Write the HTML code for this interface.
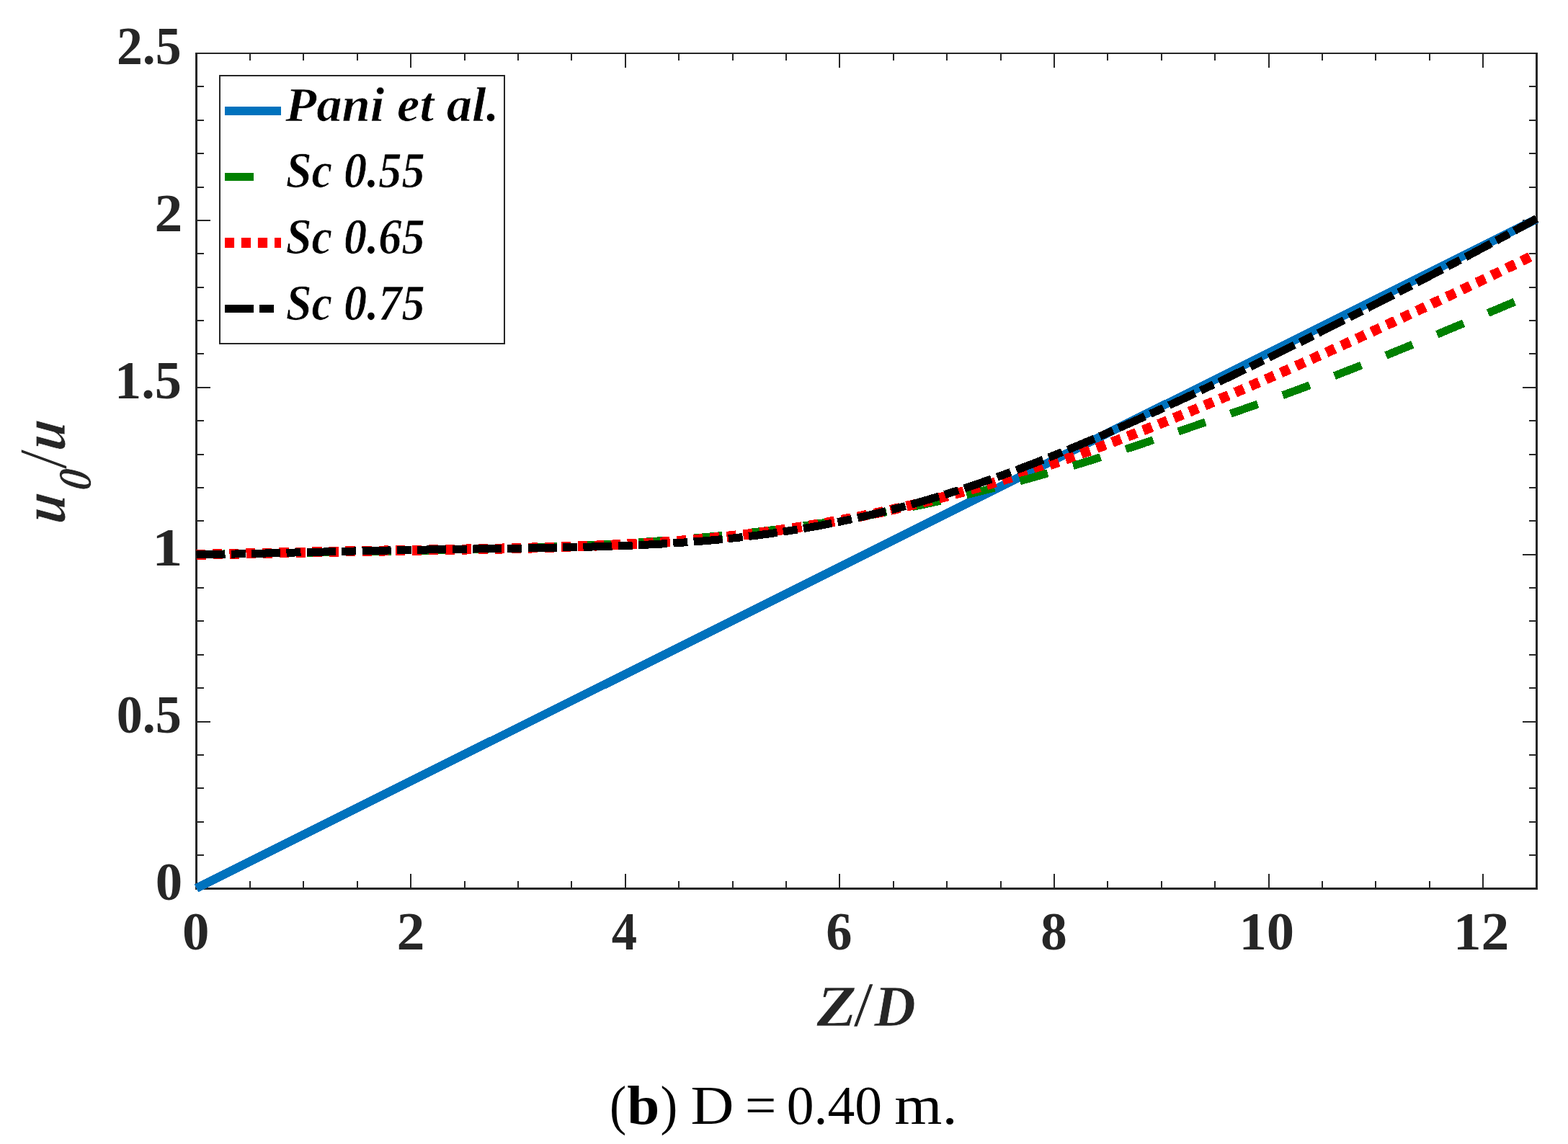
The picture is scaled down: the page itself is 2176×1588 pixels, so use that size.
<!DOCTYPE html>
<html lang="en"><head><meta charset="utf-8"><title>u0/u vs Z/D (b) D = 0.40 m.</title>
<style>
html,body{margin:0;padding:0;background:#fff;}
body{width:2176px;height:1588px;overflow:hidden;font-family:"Liberation Serif",serif;}
svg{display:block;}
</style></head>
<body>
<svg width="2176" height="1588" viewBox="0 0 2176 1588">
<rect width="2176" height="1588" fill="#fff"/>
<rect x="346.00" y="1223.00" width="2.00" height="11.00" fill="#262626"/>
<rect x="346.00" y="74.00" width="2.00" height="10.00" fill="#262626"/>
<rect x="420.00" y="1223.00" width="2.00" height="11.00" fill="#262626"/>
<rect x="420.00" y="74.00" width="2.00" height="10.00" fill="#262626"/>
<rect x="495.00" y="1223.00" width="2.00" height="11.00" fill="#262626"/>
<rect x="495.00" y="74.00" width="2.00" height="10.00" fill="#262626"/>
<rect x="569.00" y="1213.00" width="2.00" height="21.00" fill="#262626"/>
<rect x="569.00" y="74.00" width="2.00" height="20.00" fill="#262626"/>
<rect x="644.00" y="1223.00" width="2.00" height="11.00" fill="#262626"/>
<rect x="644.00" y="74.00" width="2.00" height="10.00" fill="#262626"/>
<rect x="718.00" y="1223.00" width="2.00" height="11.00" fill="#262626"/>
<rect x="718.00" y="74.00" width="2.00" height="10.00" fill="#262626"/>
<rect x="792.00" y="1223.00" width="2.00" height="11.00" fill="#262626"/>
<rect x="792.00" y="74.00" width="2.00" height="10.00" fill="#262626"/>
<rect x="867.00" y="1213.00" width="2.00" height="21.00" fill="#262626"/>
<rect x="867.00" y="74.00" width="2.00" height="20.00" fill="#262626"/>
<rect x="941.00" y="1223.00" width="2.00" height="11.00" fill="#262626"/>
<rect x="941.00" y="74.00" width="2.00" height="10.00" fill="#262626"/>
<rect x="1016.00" y="1223.00" width="2.00" height="11.00" fill="#262626"/>
<rect x="1016.00" y="74.00" width="2.00" height="10.00" fill="#262626"/>
<rect x="1090.00" y="1223.00" width="2.00" height="11.00" fill="#262626"/>
<rect x="1090.00" y="74.00" width="2.00" height="10.00" fill="#262626"/>
<rect x="1164.00" y="1213.00" width="2.00" height="21.00" fill="#262626"/>
<rect x="1164.00" y="74.00" width="2.00" height="20.00" fill="#262626"/>
<rect x="1239.00" y="1223.00" width="2.00" height="11.00" fill="#262626"/>
<rect x="1239.00" y="74.00" width="2.00" height="10.00" fill="#262626"/>
<rect x="1313.00" y="1223.00" width="2.00" height="11.00" fill="#262626"/>
<rect x="1313.00" y="74.00" width="2.00" height="10.00" fill="#262626"/>
<rect x="1388.00" y="1223.00" width="2.00" height="11.00" fill="#262626"/>
<rect x="1388.00" y="74.00" width="2.00" height="10.00" fill="#262626"/>
<rect x="1462.00" y="1213.00" width="2.00" height="21.00" fill="#262626"/>
<rect x="1462.00" y="74.00" width="2.00" height="20.00" fill="#262626"/>
<rect x="1536.00" y="1223.00" width="2.00" height="11.00" fill="#262626"/>
<rect x="1536.00" y="74.00" width="2.00" height="10.00" fill="#262626"/>
<rect x="1611.00" y="1223.00" width="2.00" height="11.00" fill="#262626"/>
<rect x="1611.00" y="74.00" width="2.00" height="10.00" fill="#262626"/>
<rect x="1685.00" y="1223.00" width="2.00" height="11.00" fill="#262626"/>
<rect x="1685.00" y="74.00" width="2.00" height="10.00" fill="#262626"/>
<rect x="1760.00" y="1213.00" width="2.00" height="21.00" fill="#262626"/>
<rect x="1760.00" y="74.00" width="2.00" height="20.00" fill="#262626"/>
<rect x="1834.00" y="1223.00" width="2.00" height="11.00" fill="#262626"/>
<rect x="1834.00" y="74.00" width="2.00" height="10.00" fill="#262626"/>
<rect x="1908.00" y="1223.00" width="2.00" height="11.00" fill="#262626"/>
<rect x="1908.00" y="74.00" width="2.00" height="10.00" fill="#262626"/>
<rect x="1983.00" y="1223.00" width="2.00" height="11.00" fill="#262626"/>
<rect x="1983.00" y="74.00" width="2.00" height="10.00" fill="#262626"/>
<rect x="2057.00" y="1213.00" width="2.00" height="21.00" fill="#262626"/>
<rect x="2057.00" y="74.00" width="2.00" height="20.00" fill="#262626"/>
<rect x="272.00" y="1186.00" width="11.00" height="2.00" fill="#262626"/>
<rect x="2122.00" y="1186.00" width="11.00" height="2.00" fill="#262626"/>
<rect x="272.00" y="1140.00" width="11.00" height="2.00" fill="#262626"/>
<rect x="2122.00" y="1140.00" width="11.00" height="2.00" fill="#262626"/>
<rect x="272.00" y="1093.00" width="11.00" height="2.00" fill="#262626"/>
<rect x="2122.00" y="1093.00" width="11.00" height="2.00" fill="#262626"/>
<rect x="272.00" y="1047.00" width="11.00" height="2.00" fill="#262626"/>
<rect x="2122.00" y="1047.00" width="11.00" height="2.00" fill="#262626"/>
<rect x="272.00" y="1001.00" width="20.00" height="2.00" fill="#262626"/>
<rect x="2113.00" y="1001.00" width="20.00" height="2.00" fill="#262626"/>
<rect x="272.00" y="954.00" width="11.00" height="2.00" fill="#262626"/>
<rect x="2122.00" y="954.00" width="11.00" height="2.00" fill="#262626"/>
<rect x="272.00" y="908.00" width="11.00" height="2.00" fill="#262626"/>
<rect x="2122.00" y="908.00" width="11.00" height="2.00" fill="#262626"/>
<rect x="272.00" y="861.00" width="11.00" height="2.00" fill="#262626"/>
<rect x="2122.00" y="861.00" width="11.00" height="2.00" fill="#262626"/>
<rect x="272.00" y="815.00" width="11.00" height="2.00" fill="#262626"/>
<rect x="2122.00" y="815.00" width="11.00" height="2.00" fill="#262626"/>
<rect x="272.00" y="769.00" width="20.00" height="2.00" fill="#262626"/>
<rect x="2113.00" y="769.00" width="20.00" height="2.00" fill="#262626"/>
<rect x="272.00" y="722.00" width="11.00" height="2.00" fill="#262626"/>
<rect x="2122.00" y="722.00" width="11.00" height="2.00" fill="#262626"/>
<rect x="272.00" y="676.00" width="11.00" height="2.00" fill="#262626"/>
<rect x="2122.00" y="676.00" width="11.00" height="2.00" fill="#262626"/>
<rect x="272.00" y="630.00" width="11.00" height="2.00" fill="#262626"/>
<rect x="2122.00" y="630.00" width="11.00" height="2.00" fill="#262626"/>
<rect x="272.00" y="583.00" width="11.00" height="2.00" fill="#262626"/>
<rect x="2122.00" y="583.00" width="11.00" height="2.00" fill="#262626"/>
<rect x="272.00" y="537.00" width="20.00" height="2.00" fill="#262626"/>
<rect x="2113.00" y="537.00" width="20.00" height="2.00" fill="#262626"/>
<rect x="272.00" y="490.00" width="11.00" height="2.00" fill="#262626"/>
<rect x="2122.00" y="490.00" width="11.00" height="2.00" fill="#262626"/>
<rect x="272.00" y="444.00" width="11.00" height="2.00" fill="#262626"/>
<rect x="2122.00" y="444.00" width="11.00" height="2.00" fill="#262626"/>
<rect x="272.00" y="398.00" width="11.00" height="2.00" fill="#262626"/>
<rect x="2122.00" y="398.00" width="11.00" height="2.00" fill="#262626"/>
<rect x="272.00" y="351.00" width="11.00" height="2.00" fill="#262626"/>
<rect x="2122.00" y="351.00" width="11.00" height="2.00" fill="#262626"/>
<rect x="272.00" y="305.00" width="20.00" height="2.00" fill="#262626"/>
<rect x="2113.00" y="305.00" width="20.00" height="2.00" fill="#262626"/>
<rect x="272.00" y="259.00" width="11.00" height="2.00" fill="#262626"/>
<rect x="2122.00" y="259.00" width="11.00" height="2.00" fill="#262626"/>
<rect x="272.00" y="212.00" width="11.00" height="2.00" fill="#262626"/>
<rect x="2122.00" y="212.00" width="11.00" height="2.00" fill="#262626"/>
<rect x="272.00" y="166.00" width="11.00" height="2.00" fill="#262626"/>
<rect x="2122.00" y="166.00" width="11.00" height="2.00" fill="#262626"/>
<rect x="272.00" y="119.00" width="11.00" height="2.00" fill="#262626"/>
<rect x="2122.00" y="119.00" width="11.00" height="2.00" fill="#262626"/>
<rect x="271.00" y="73.00" width="3.00" height="1162.00" fill="#262626"/>
<rect x="2131.00" y="73.00" width="3.00" height="1162.00" fill="#262626"/>
<rect x="271.00" y="73.00" width="1863.00" height="2.00" fill="#262626"/>
<rect x="271.00" y="1232.00" width="1863.00" height="3.00" fill="#262626"/>
<path d="M272.5,1233.0 L2132.5,304.0" stroke="#0072BD" stroke-width="12" fill="none" shape-rendering="crispEdges"/>
<path d="M272.50,769.66 L275.50,769.61 L278.50,769.56 L281.50,769.51 L284.50,769.45 L287.50,769.40 L290.50,769.35 L293.50,769.30 L296.50,769.25 L299.50,769.20 L302.50,769.14 L305.50,769.09 L308.50,769.04 L311.50,768.99 L314.50,768.94 L317.50,768.89 L320.50,768.84 L323.50,768.79 L326.50,768.74 L329.50,768.69 L332.50,768.64 L335.50,768.59 L338.50,768.54 L341.50,768.49 L344.50,768.44 L347.50,768.39 L350.50,768.34 L353.50,768.30 L356.50,768.25 L359.50,768.20 L362.50,768.15 L365.50,768.10 L368.50,768.05 L371.50,768.00 L374.50,767.96 L377.50,767.91 L380.50,767.86 L383.50,767.81 L386.50,767.76 L389.50,767.72 L392.50,767.67 L395.50,767.62 L398.50,767.57 L401.50,767.52 L404.50,767.48 L407.50,767.43 L410.50,767.38 L413.50,767.33 L416.50,767.28 L419.50,767.24 L422.50,767.19 L425.50,767.14 L428.50,767.09 L431.50,767.04 L434.50,766.99 L437.50,766.95 L440.50,766.90 L443.50,766.85 L446.50,766.80 L449.50,766.75 L452.50,766.70 L455.50,766.65 L458.50,766.61 L461.50,766.56 L464.50,766.51 L467.50,766.46 L470.50,766.41 L473.50,766.36 L476.50,766.31 L479.50,766.26 L482.50,766.21 L485.50,766.16 L488.50,766.11 L491.50,766.06 L494.50,766.00 L497.50,765.95 L500.50,765.90 L503.50,765.85 L506.50,765.80 L509.50,765.75 L512.50,765.69 L515.50,765.64 L518.50,765.59 L521.50,765.53 L524.50,765.48 L527.50,765.42 L530.50,765.37 L533.50,765.31 L536.50,765.26 L539.50,765.20 L542.50,765.15 L545.50,765.09 L548.50,765.03 L551.50,764.98 L554.50,764.92 L557.50,764.86 L560.50,764.80 L563.50,764.74 L566.50,764.68 L569.50,764.62 L572.50,764.56 L575.50,764.50 L578.50,764.44 L581.50,764.38 L584.50,764.31 L587.50,764.25 L590.50,764.19 L593.50,764.12 L596.50,764.06 L599.50,763.99 L602.50,763.93 L605.50,763.86 L608.50,763.79 L611.50,763.72 L614.50,763.65 L617.50,763.58 L620.50,763.51 L623.50,763.44 L626.50,763.37 L629.50,763.30 L632.50,763.23 L635.50,763.15 L638.50,763.08 L641.50,763.00 L644.50,762.93 L647.50,762.85 L650.50,762.77 L653.50,762.69 L656.50,762.61 L659.50,762.53 L662.50,762.45 L665.50,762.37 L668.50,762.29 L671.50,762.20 L674.50,762.12 L677.50,762.03 L680.50,761.94 L683.50,761.86 L686.50,761.77 L689.50,761.68 L692.50,761.59 L695.50,761.49 L698.50,761.40 L701.50,761.31 L704.50,761.21 L707.50,761.12 L710.50,761.02 L713.50,760.92 L716.50,760.82 L719.50,760.72 L722.50,760.62 L725.50,760.51 L728.50,760.41 L731.50,760.30 L734.50,760.20 L737.50,760.09 L740.50,759.98 L743.50,759.87 L746.50,759.76 L749.50,759.64 L752.50,759.53 L755.50,759.41 L758.50,759.29 L761.50,759.18 L764.50,759.05 L767.50,758.93 L770.50,758.81 L773.50,758.68 L776.50,758.56 L779.50,758.43 L782.50,758.30 L785.50,758.17 L788.50,758.04 L791.50,757.91 L794.50,757.77 L797.50,757.63 L800.50,757.49 L803.50,757.35 L806.50,757.21 L809.50,757.07 L812.50,756.92 L815.50,756.78 L818.50,756.63 L821.50,756.48 L824.50,756.32 L827.50,756.17 L830.50,756.01 L833.50,755.86 L836.50,755.70 L839.50,755.53 L842.50,755.37 L845.50,755.21 L848.50,755.04 L851.50,754.87 L854.50,754.70 L857.50,754.52 L860.50,754.35 L863.50,754.17 L866.50,753.99 L869.50,753.81 L872.50,753.63 L875.50,753.44 L878.50,753.26 L881.50,753.07 L884.50,752.87 L887.50,752.68 L890.50,752.48 L893.50,752.28 L896.50,752.08 L899.50,751.88 L902.50,751.67 L905.50,751.47 L908.50,751.26 L911.50,751.04 L914.50,750.83 L917.50,750.61 L920.50,750.39 L923.50,750.17 L926.50,749.95 L929.50,749.72 L932.50,749.49 L935.50,749.26 L938.50,749.02 L941.50,748.78 L944.50,748.54 L947.50,748.30 L950.50,748.06 L953.50,747.81 L956.50,747.56 L959.50,747.31 L962.50,747.05 L965.50,746.79 L968.50,746.53 L971.50,746.26 L974.50,746.00 L977.50,745.73 L980.50,745.45 L983.50,745.18 L986.50,744.90 L989.50,744.62 L992.50,744.33 L995.50,744.05 L998.50,743.75 L1001.50,743.46 L1004.50,743.16 L1007.50,742.86 L1010.50,742.56 L1013.50,742.25 L1016.50,741.95 L1019.50,741.63 L1022.50,741.32 L1025.50,741.00 L1028.50,740.68 L1031.50,740.35 L1034.50,740.02 L1037.50,739.69 L1040.50,739.35 L1043.50,739.02 L1046.50,738.67 L1049.50,738.33 L1052.50,737.98 L1055.50,737.63 L1058.50,737.27 L1061.50,736.91 L1064.50,736.55 L1067.50,736.18 L1070.50,735.81 L1073.50,735.44 L1076.50,735.07 L1079.50,734.68 L1082.50,734.30 L1085.50,733.91 L1088.50,733.52 L1091.50,733.13 L1094.50,732.73 L1097.50,732.33 L1100.50,731.92 L1103.50,731.51 L1106.50,731.10 L1109.50,730.69 L1112.50,730.27 L1115.50,729.84 L1118.50,729.41 L1121.50,728.98 L1124.50,728.55 L1127.50,728.11 L1130.50,727.67 L1133.50,727.22 L1136.50,726.77 L1139.50,726.32 L1142.50,725.86 L1145.50,725.40 L1148.50,724.93 L1151.50,724.46 L1154.50,723.99 L1157.50,723.51 L1160.50,723.03 L1163.50,722.55 L1166.50,722.06 L1169.50,721.57 L1172.50,721.07 L1175.50,720.57 L1178.50,720.07 L1181.50,719.56 L1184.50,719.05 L1187.50,718.53 L1190.50,718.01 L1193.50,717.49 L1196.50,716.96 L1199.50,716.43 L1202.50,715.89 L1205.50,715.35 L1208.50,714.81 L1211.50,714.26 L1214.50,713.71 L1217.50,713.15 L1220.50,712.59 L1223.50,712.03 L1226.50,711.46 L1229.50,710.89 L1232.50,710.31 L1235.50,709.73 L1238.50,709.15 L1241.50,708.56 L1244.50,707.97 L1247.50,707.38 L1250.50,706.78 L1253.50,706.17 L1256.50,705.56 L1259.50,704.95 L1262.50,704.34 L1265.50,703.72 L1268.50,703.09 L1271.50,702.46 L1274.50,701.83 L1277.50,701.20 L1280.50,700.56 L1283.50,699.91 L1286.50,699.27 L1289.50,698.61 L1292.50,697.96 L1295.50,697.30 L1298.50,696.63 L1301.50,695.97 L1304.50,695.29 L1307.50,694.62 L1310.50,693.94 L1313.50,693.25 L1316.50,692.57 L1319.50,691.88 L1322.50,691.18 L1325.50,690.48 L1328.50,689.78 L1331.50,689.07 L1334.50,688.36 L1337.50,687.64 L1340.50,686.92 L1343.50,686.20 L1346.50,685.47 L1349.50,684.74 L1352.50,684.01 L1355.50,683.27 L1358.50,682.53 L1361.50,681.78 L1364.50,681.03 L1367.50,680.27 L1370.50,679.52 L1373.50,678.76 L1376.50,677.99 L1379.50,677.22 L1382.50,676.45 L1385.50,675.67 L1388.50,674.89 L1391.50,674.10 L1394.50,673.32 L1397.50,672.52 L1400.50,671.73 L1403.50,670.93 L1406.50,670.13 L1409.50,669.32 L1412.50,668.51 L1415.50,667.69 L1418.50,666.87 L1421.50,666.05 L1424.50,665.23 L1427.50,664.40 L1430.50,663.56 L1433.50,662.73 L1436.50,661.89 L1439.50,661.04 L1442.50,660.20 L1445.50,659.34 L1448.50,658.49 L1451.50,657.63 L1454.50,656.77 L1457.50,655.90 L1460.50,655.03 L1463.50,654.16 L1466.50,653.28 L1469.50,652.40 L1472.50,651.52 L1475.50,650.63 L1478.50,649.74 L1481.50,648.85 L1484.50,647.95 L1487.50,647.05 L1490.50,646.14 L1493.50,645.23 L1496.50,644.32 L1499.50,643.40 L1502.50,642.48 L1505.50,641.56 L1508.50,640.63 L1511.50,639.70 L1514.50,638.77 L1517.50,637.83 L1520.50,636.89 L1523.50,635.94 L1526.50,635.00 L1529.50,634.04 L1532.50,633.09 L1535.50,632.13 L1538.50,631.17 L1541.50,630.20 L1544.50,629.24 L1547.50,628.26 L1550.50,627.29 L1553.50,626.31 L1556.50,625.33 L1559.50,624.35 L1562.50,623.36 L1565.50,622.37 L1568.50,621.38 L1571.50,620.39 L1574.50,619.39 L1577.50,618.40 L1580.50,617.40 L1583.50,616.39 L1586.50,615.39 L1589.50,614.38 L1592.50,613.38 L1595.50,612.37 L1598.50,611.36 L1601.50,610.35 L1604.50,609.34 L1607.50,608.32 L1610.50,607.31 L1613.50,606.29 L1616.50,605.28 L1619.50,604.26 L1622.50,603.24 L1625.50,602.22 L1628.50,601.20 L1631.50,600.19 L1634.50,599.17 L1637.50,598.15 L1640.50,597.13 L1643.50,596.10 L1646.50,595.08 L1649.50,594.06 L1652.50,593.04 L1655.50,592.02 L1658.50,591.00 L1661.50,589.97 L1664.50,588.95 L1667.50,587.93 L1670.50,586.90 L1673.50,585.88 L1676.50,584.85 L1679.50,583.83 L1682.50,582.80 L1685.50,581.78 L1688.50,580.75 L1691.50,579.72 L1694.50,578.69 L1697.50,577.67 L1700.50,576.64 L1703.50,575.61 L1706.50,574.57 L1709.50,573.54 L1712.50,572.51 L1715.50,571.47 L1718.50,570.43 L1721.50,569.40 L1724.50,568.36 L1727.50,567.31 L1730.50,566.27 L1733.50,565.23 L1736.50,564.18 L1739.50,563.13 L1742.50,562.07 L1745.50,561.02 L1748.50,559.96 L1751.50,558.90 L1754.50,557.84 L1757.50,556.77 L1760.50,555.70 L1763.50,554.63 L1766.50,553.56 L1769.50,552.48 L1772.50,551.40 L1775.50,550.31 L1778.50,549.23 L1781.50,548.14 L1784.50,547.04 L1787.50,545.95 L1790.50,544.85 L1793.50,543.74 L1796.50,542.64 L1799.50,541.53 L1802.50,540.41 L1805.50,539.30 L1808.50,538.18 L1811.50,537.06 L1814.50,535.93 L1817.50,534.81 L1820.50,533.67 L1823.50,532.54 L1826.50,531.40 L1829.50,530.26 L1832.50,529.12 L1835.50,527.98 L1838.50,526.83 L1841.50,525.68 L1844.50,524.52 L1847.50,523.37 L1850.50,522.21 L1853.50,521.05 L1856.50,519.88 L1859.50,518.72 L1862.50,517.55 L1865.50,516.38 L1868.50,515.20 L1871.50,514.03 L1874.50,512.85 L1877.50,511.66 L1880.50,510.48 L1883.50,509.29 L1886.50,508.11 L1889.50,506.91 L1892.50,505.72 L1895.50,504.53 L1898.50,503.33 L1901.50,502.13 L1904.50,500.93 L1907.50,499.72 L1910.50,498.52 L1913.50,497.31 L1916.50,496.10 L1919.50,494.89 L1922.50,493.68 L1925.50,492.46 L1928.50,491.24 L1931.50,490.02 L1934.50,488.80 L1937.50,487.58 L1940.50,486.35 L1943.50,485.13 L1946.50,483.90 L1949.50,482.67 L1952.50,481.44 L1955.50,480.21 L1958.50,478.97 L1961.50,477.74 L1964.50,476.50 L1967.50,475.26 L1970.50,474.02 L1973.50,472.78 L1976.50,471.54 L1979.50,470.30 L1982.50,469.05 L1985.50,467.81 L1988.50,466.56 L1991.50,465.31 L1994.50,464.06 L1997.50,462.81 L2000.50,461.56 L2003.50,460.31 L2006.50,459.06 L2009.50,457.80 L2012.50,456.55 L2015.50,455.29 L2018.50,454.04 L2021.50,452.78 L2024.50,451.52 L2027.50,450.26 L2030.50,449.01 L2033.50,447.75 L2036.50,446.49 L2039.50,445.23 L2042.50,443.96 L2045.50,442.70 L2048.50,441.44 L2051.50,440.18 L2054.50,438.92 L2057.50,437.65 L2060.50,436.39 L2063.50,435.13 L2066.50,433.86 L2069.50,432.60 L2072.50,431.34 L2075.50,430.07 L2078.50,428.81 L2081.50,427.55 L2084.50,426.28 L2087.50,425.02 L2090.50,423.76 L2093.50,422.49 L2096.50,421.23 L2099.50,419.97 L2102.50,418.71 L2105.50,417.45 L2108.50,416.19 L2111.50,414.92 L2114.50,413.66 L2117.50,412.41 L2120.50,411.15 L2123.50,409.89 L2126.50,408.63 L2129.50,407.37 L2132.50,406.12" stroke="#008000" stroke-width="11" stroke-dasharray="40 36.735" stroke-dashoffset="0" fill="none" shape-rendering="crispEdges"/>
<path d="M272.50,769.96 L275.50,769.88 L278.50,769.81 L281.50,769.74 L284.50,769.67 L287.50,769.60 L290.50,769.53 L293.50,769.46 L296.50,769.38 L299.50,769.31 L302.50,769.24 L305.50,769.17 L308.50,769.10 L311.50,769.03 L314.50,768.96 L317.50,768.89 L320.50,768.82 L323.50,768.75 L326.50,768.68 L329.50,768.61 L332.50,768.54 L335.50,768.47 L338.50,768.40 L341.50,768.33 L344.50,768.27 L347.50,768.20 L350.50,768.13 L353.50,768.06 L356.50,767.99 L359.50,767.93 L362.50,767.86 L365.50,767.79 L368.50,767.73 L371.50,767.66 L374.50,767.59 L377.50,767.53 L380.50,767.46 L383.50,767.40 L386.50,767.33 L389.50,767.27 L392.50,767.20 L395.50,767.14 L398.50,767.07 L401.50,767.01 L404.50,766.95 L407.50,766.89 L410.50,766.82 L413.50,766.76 L416.50,766.70 L419.50,766.64 L422.50,766.58 L425.50,766.52 L428.50,766.45 L431.50,766.39 L434.50,766.33 L437.50,766.27 L440.50,766.22 L443.50,766.16 L446.50,766.10 L449.50,766.04 L452.50,765.98 L455.50,765.92 L458.50,765.87 L461.50,765.81 L464.50,765.75 L467.50,765.69 L470.50,765.64 L473.50,765.58 L476.50,765.53 L479.50,765.47 L482.50,765.41 L485.50,765.36 L488.50,765.30 L491.50,765.25 L494.50,765.20 L497.50,765.14 L500.50,765.09 L503.50,765.03 L506.50,764.98 L509.50,764.93 L512.50,764.87 L515.50,764.82 L518.50,764.77 L521.50,764.71 L524.50,764.66 L527.50,764.61 L530.50,764.56 L533.50,764.51 L536.50,764.45 L539.50,764.40 L542.50,764.35 L545.50,764.30 L548.50,764.25 L551.50,764.20 L554.50,764.15 L557.50,764.09 L560.50,764.04 L563.50,763.99 L566.50,763.94 L569.50,763.89 L572.50,763.84 L575.50,763.79 L578.50,763.74 L581.50,763.68 L584.50,763.63 L587.50,763.58 L590.50,763.53 L593.50,763.48 L596.50,763.43 L599.50,763.37 L602.50,763.32 L605.50,763.27 L608.50,763.22 L611.50,763.17 L614.50,763.11 L617.50,763.06 L620.50,763.01 L623.50,762.95 L626.50,762.90 L629.50,762.84 L632.50,762.79 L635.50,762.74 L638.50,762.68 L641.50,762.63 L644.50,762.57 L647.50,762.51 L650.50,762.46 L653.50,762.40 L656.50,762.34 L659.50,762.28 L662.50,762.22 L665.50,762.17 L668.50,762.11 L671.50,762.05 L674.50,761.98 L677.50,761.92 L680.50,761.86 L683.50,761.80 L686.50,761.74 L689.50,761.67 L692.50,761.61 L695.50,761.54 L698.50,761.47 L701.50,761.41 L704.50,761.34 L707.50,761.27 L710.50,761.20 L713.50,761.13 L716.50,761.06 L719.50,760.99 L722.50,760.91 L725.50,760.84 L728.50,760.76 L731.50,760.69 L734.50,760.61 L737.50,760.53 L740.50,760.45 L743.50,760.37 L746.50,760.29 L749.50,760.20 L752.50,760.12 L755.50,760.03 L758.50,759.95 L761.50,759.86 L764.50,759.77 L767.50,759.68 L770.50,759.58 L773.50,759.49 L776.50,759.39 L779.50,759.30 L782.50,759.20 L785.50,759.10 L788.50,759.00 L791.50,758.89 L794.50,758.79 L797.50,758.68 L800.50,758.57 L803.50,758.46 L806.50,758.35 L809.50,758.24 L812.50,758.12 L815.50,758.01 L818.50,757.89 L821.50,757.76 L824.50,757.64 L827.50,757.52 L830.50,757.39 L833.50,757.26 L836.50,757.13 L839.50,756.99 L842.50,756.86 L845.50,756.72 L848.50,756.58 L851.50,756.44 L854.50,756.29 L857.50,756.14 L860.50,755.99 L863.50,755.84 L866.50,755.69 L869.50,755.53 L872.50,755.37 L875.50,755.21 L878.50,755.04 L881.50,754.87 L884.50,754.70 L887.50,754.53 L890.50,754.35 L893.50,754.17 L896.50,753.99 L899.50,753.81 L902.50,753.62 L905.50,753.43 L908.50,753.23 L911.50,753.04 L914.50,752.84 L917.50,752.63 L920.50,752.43 L923.50,752.22 L926.50,752.00 L929.50,751.79 L932.50,751.57 L935.50,751.35 L938.50,751.12 L941.50,750.89 L944.50,750.66 L947.50,750.42 L950.50,750.18 L953.50,749.94 L956.50,749.69 L959.50,749.44 L962.50,749.19 L965.50,748.93 L968.50,748.67 L971.50,748.40 L974.50,748.13 L977.50,747.86 L980.50,747.58 L983.50,747.30 L986.50,747.02 L989.50,746.73 L992.50,746.44 L995.50,746.14 L998.50,745.84 L1001.50,745.54 L1004.50,745.23 L1007.50,744.92 L1010.50,744.61 L1013.50,744.29 L1016.50,743.96 L1019.50,743.63 L1022.50,743.30 L1025.50,742.96 L1028.50,742.62 L1031.50,742.28 L1034.50,741.93 L1037.50,741.58 L1040.50,741.22 L1043.50,740.86 L1046.50,740.49 L1049.50,740.12 L1052.50,739.74 L1055.50,739.36 L1058.50,738.98 L1061.50,738.59 L1064.50,738.20 L1067.50,737.80 L1070.50,737.40 L1073.50,736.99 L1076.50,736.58 L1079.50,736.17 L1082.50,735.75 L1085.50,735.32 L1088.50,734.89 L1091.50,734.46 L1094.50,734.02 L1097.50,733.58 L1100.50,733.13 L1103.50,732.68 L1106.50,732.22 L1109.50,731.76 L1112.50,731.29 L1115.50,730.82 L1118.50,730.34 L1121.50,729.86 L1124.50,729.38 L1127.50,728.89 L1130.50,728.39 L1133.50,727.89 L1136.50,727.39 L1139.50,726.88 L1142.50,726.36 L1145.50,725.84 L1148.50,725.32 L1151.50,724.79 L1154.50,724.26 L1157.50,723.72 L1160.50,723.17 L1163.50,722.62 L1166.50,722.07 L1169.50,721.51 L1172.50,720.95 L1175.50,720.38 L1178.50,719.81 L1181.50,719.23 L1184.50,718.64 L1187.50,718.06 L1190.50,717.46 L1193.50,716.86 L1196.50,716.26 L1199.50,715.65 L1202.50,715.04 L1205.50,714.42 L1208.50,713.80 L1211.50,713.17 L1214.50,712.54 L1217.50,711.90 L1220.50,711.25 L1223.50,710.61 L1226.50,709.95 L1229.50,709.29 L1232.50,708.63 L1235.50,707.96 L1238.50,707.29 L1241.50,706.61 L1244.50,705.92 L1247.50,705.24 L1250.50,704.54 L1253.50,703.84 L1256.50,703.14 L1259.50,702.43 L1262.50,701.72 L1265.50,701.00 L1268.50,700.27 L1271.50,699.55 L1274.50,698.81 L1277.50,698.07 L1280.50,697.33 L1283.50,696.58 L1286.50,695.83 L1289.50,695.07 L1292.50,694.30 L1295.50,693.53 L1298.50,692.76 L1301.50,691.98 L1304.50,691.20 L1307.50,690.41 L1310.50,689.61 L1313.50,688.82 L1316.50,688.01 L1319.50,687.20 L1322.50,686.39 L1325.50,685.57 L1328.50,684.75 L1331.50,683.92 L1334.50,683.09 L1337.50,682.25 L1340.50,681.41 L1343.50,680.56 L1346.50,679.71 L1349.50,678.85 L1352.50,677.99 L1355.50,677.12 L1358.50,676.25 L1361.50,675.37 L1364.50,674.49 L1367.50,673.60 L1370.50,672.71 L1373.50,671.82 L1376.50,670.92 L1379.50,670.01 L1382.50,669.10 L1385.50,668.19 L1388.50,667.27 L1391.50,666.35 L1394.50,665.42 L1397.50,664.49 L1400.50,663.55 L1403.50,662.61 L1406.50,661.66 L1409.50,660.71 L1412.50,659.75 L1415.50,658.79 L1418.50,657.83 L1421.50,656.86 L1424.50,655.89 L1427.50,654.91 L1430.50,653.93 L1433.50,652.94 L1436.50,651.95 L1439.50,650.95 L1442.50,649.95 L1445.50,648.95 L1448.50,647.94 L1451.50,646.93 L1454.50,645.91 L1457.50,644.89 L1460.50,643.87 L1463.50,642.84 L1466.50,641.80 L1469.50,640.77 L1472.50,639.72 L1475.50,638.68 L1478.50,637.63 L1481.50,636.57 L1484.50,635.52 L1487.50,634.46 L1490.50,633.39 L1493.50,632.32 L1496.50,631.25 L1499.50,630.17 L1502.50,629.09 L1505.50,628.00 L1508.50,626.91 L1511.50,625.82 L1514.50,624.73 L1517.50,623.63 L1520.50,622.52 L1523.50,621.42 L1526.50,620.30 L1529.50,619.19 L1532.50,618.07 L1535.50,616.95 L1538.50,615.83 L1541.50,614.70 L1544.50,613.57 L1547.50,612.43 L1550.50,611.29 L1553.50,610.15 L1556.50,609.01 L1559.50,607.86 L1562.50,606.71 L1565.50,605.55 L1568.50,604.39 L1571.50,603.23 L1574.50,602.07 L1577.50,600.90 L1580.50,599.73 L1583.50,598.56 L1586.50,597.38 L1589.50,596.20 L1592.50,595.02 L1595.50,593.84 L1598.50,592.65 L1601.50,591.46 L1604.50,590.26 L1607.50,589.07 L1610.50,587.87 L1613.50,586.66 L1616.50,585.46 L1619.50,584.25 L1622.50,583.04 L1625.50,581.83 L1628.50,580.61 L1631.50,579.39 L1634.50,578.17 L1637.50,576.95 L1640.50,575.72 L1643.50,574.50 L1646.50,573.26 L1649.50,572.03 L1652.50,570.80 L1655.50,569.56 L1658.50,568.32 L1661.50,567.07 L1664.50,565.83 L1667.50,564.58 L1670.50,563.33 L1673.50,562.08 L1676.50,560.82 L1679.50,559.57 L1682.50,558.31 L1685.50,557.04 L1688.50,555.78 L1691.50,554.52 L1694.50,553.25 L1697.50,551.98 L1700.50,550.71 L1703.50,549.43 L1706.50,548.15 L1709.50,546.88 L1712.50,545.60 L1715.50,544.31 L1718.50,543.03 L1721.50,541.74 L1724.50,540.45 L1727.50,539.16 L1730.50,537.87 L1733.50,536.58 L1736.50,535.28 L1739.50,533.98 L1742.50,532.69 L1745.50,531.38 L1748.50,530.08 L1751.50,528.78 L1754.50,527.47 L1757.50,526.16 L1760.50,524.85 L1763.50,523.54 L1766.50,522.22 L1769.50,520.91 L1772.50,519.59 L1775.50,518.27 L1778.50,516.95 L1781.50,515.63 L1784.50,514.31 L1787.50,512.98 L1790.50,511.66 L1793.50,510.33 L1796.50,509.00 L1799.50,507.67 L1802.50,506.33 L1805.50,505.00 L1808.50,503.66 L1811.50,502.32 L1814.50,500.99 L1817.50,499.65 L1820.50,498.30 L1823.50,496.96 L1826.50,495.62 L1829.50,494.27 L1832.50,492.92 L1835.50,491.57 L1838.50,490.22 L1841.50,488.87 L1844.50,487.52 L1847.50,486.16 L1850.50,484.81 L1853.50,483.45 L1856.50,482.09 L1859.50,480.73 L1862.50,479.37 L1865.50,478.01 L1868.50,476.65 L1871.50,475.28 L1874.50,473.92 L1877.50,472.55 L1880.50,471.18 L1883.50,469.81 L1886.50,468.44 L1889.50,467.07 L1892.50,465.69 L1895.50,464.32 L1898.50,462.94 L1901.50,461.57 L1904.50,460.19 L1907.50,458.81 L1910.50,457.43 L1913.50,456.05 L1916.50,454.67 L1919.50,453.28 L1922.50,451.90 L1925.50,450.51 L1928.50,449.12 L1931.50,447.74 L1934.50,446.35 L1937.50,444.96 L1940.50,443.56 L1943.50,442.17 L1946.50,440.78 L1949.50,439.38 L1952.50,437.99 L1955.50,436.59 L1958.50,435.19 L1961.50,433.79 L1964.50,432.39 L1967.50,430.99 L1970.50,429.59 L1973.50,428.18 L1976.50,426.78 L1979.50,425.37 L1982.50,423.97 L1985.50,422.56 L1988.50,421.15 L1991.50,419.74 L1994.50,418.33 L1997.50,416.92 L2000.50,415.51 L2003.50,414.09 L2006.50,412.68 L2009.50,411.26 L2012.50,409.85 L2015.50,408.43 L2018.50,407.01 L2021.50,405.59 L2024.50,404.17 L2027.50,402.74 L2030.50,401.32 L2033.50,399.90 L2036.50,398.47 L2039.50,397.05 L2042.50,395.62 L2045.50,394.19 L2048.50,392.76 L2051.50,391.33 L2054.50,389.90 L2057.50,388.47 L2060.50,387.03 L2063.50,385.60 L2066.50,384.16 L2069.50,382.73 L2072.50,381.29 L2075.50,379.85 L2078.50,378.41 L2081.50,376.97 L2084.50,375.53 L2087.50,374.08 L2090.50,372.64 L2093.50,371.19 L2096.50,369.75 L2099.50,368.30 L2102.50,366.85 L2105.50,365.40 L2108.50,363.95 L2111.50,362.50 L2114.50,361.04 L2117.50,359.59 L2120.50,358.13 L2123.50,356.68 L2126.50,355.22 L2129.50,353.76 L2132.26,352.42" stroke="#FF0000" stroke-width="14" stroke-dasharray="13.1 9.918" stroke-dashoffset="0" fill="none" shape-rendering="crispEdges"/>
<clipPath id="gclip"><rect x="1400" y="0" width="145" height="1588"/></clipPath>
<path clip-path="url(#gclip)" d="M272.50,769.66 L275.50,769.61 L278.50,769.56 L281.50,769.51 L284.50,769.45 L287.50,769.40 L290.50,769.35 L293.50,769.30 L296.50,769.25 L299.50,769.20 L302.50,769.14 L305.50,769.09 L308.50,769.04 L311.50,768.99 L314.50,768.94 L317.50,768.89 L320.50,768.84 L323.50,768.79 L326.50,768.74 L329.50,768.69 L332.50,768.64 L335.50,768.59 L338.50,768.54 L341.50,768.49 L344.50,768.44 L347.50,768.39 L350.50,768.34 L353.50,768.30 L356.50,768.25 L359.50,768.20 L362.50,768.15 L365.50,768.10 L368.50,768.05 L371.50,768.00 L374.50,767.96 L377.50,767.91 L380.50,767.86 L383.50,767.81 L386.50,767.76 L389.50,767.72 L392.50,767.67 L395.50,767.62 L398.50,767.57 L401.50,767.52 L404.50,767.48 L407.50,767.43 L410.50,767.38 L413.50,767.33 L416.50,767.28 L419.50,767.24 L422.50,767.19 L425.50,767.14 L428.50,767.09 L431.50,767.04 L434.50,766.99 L437.50,766.95 L440.50,766.90 L443.50,766.85 L446.50,766.80 L449.50,766.75 L452.50,766.70 L455.50,766.65 L458.50,766.61 L461.50,766.56 L464.50,766.51 L467.50,766.46 L470.50,766.41 L473.50,766.36 L476.50,766.31 L479.50,766.26 L482.50,766.21 L485.50,766.16 L488.50,766.11 L491.50,766.06 L494.50,766.00 L497.50,765.95 L500.50,765.90 L503.50,765.85 L506.50,765.80 L509.50,765.75 L512.50,765.69 L515.50,765.64 L518.50,765.59 L521.50,765.53 L524.50,765.48 L527.50,765.42 L530.50,765.37 L533.50,765.31 L536.50,765.26 L539.50,765.20 L542.50,765.15 L545.50,765.09 L548.50,765.03 L551.50,764.98 L554.50,764.92 L557.50,764.86 L560.50,764.80 L563.50,764.74 L566.50,764.68 L569.50,764.62 L572.50,764.56 L575.50,764.50 L578.50,764.44 L581.50,764.38 L584.50,764.31 L587.50,764.25 L590.50,764.19 L593.50,764.12 L596.50,764.06 L599.50,763.99 L602.50,763.93 L605.50,763.86 L608.50,763.79 L611.50,763.72 L614.50,763.65 L617.50,763.58 L620.50,763.51 L623.50,763.44 L626.50,763.37 L629.50,763.30 L632.50,763.23 L635.50,763.15 L638.50,763.08 L641.50,763.00 L644.50,762.93 L647.50,762.85 L650.50,762.77 L653.50,762.69 L656.50,762.61 L659.50,762.53 L662.50,762.45 L665.50,762.37 L668.50,762.29 L671.50,762.20 L674.50,762.12 L677.50,762.03 L680.50,761.94 L683.50,761.86 L686.50,761.77 L689.50,761.68 L692.50,761.59 L695.50,761.49 L698.50,761.40 L701.50,761.31 L704.50,761.21 L707.50,761.12 L710.50,761.02 L713.50,760.92 L716.50,760.82 L719.50,760.72 L722.50,760.62 L725.50,760.51 L728.50,760.41 L731.50,760.30 L734.50,760.20 L737.50,760.09 L740.50,759.98 L743.50,759.87 L746.50,759.76 L749.50,759.64 L752.50,759.53 L755.50,759.41 L758.50,759.29 L761.50,759.18 L764.50,759.05 L767.50,758.93 L770.50,758.81 L773.50,758.68 L776.50,758.56 L779.50,758.43 L782.50,758.30 L785.50,758.17 L788.50,758.04 L791.50,757.91 L794.50,757.77 L797.50,757.63 L800.50,757.49 L803.50,757.35 L806.50,757.21 L809.50,757.07 L812.50,756.92 L815.50,756.78 L818.50,756.63 L821.50,756.48 L824.50,756.32 L827.50,756.17 L830.50,756.01 L833.50,755.86 L836.50,755.70 L839.50,755.53 L842.50,755.37 L845.50,755.21 L848.50,755.04 L851.50,754.87 L854.50,754.70 L857.50,754.52 L860.50,754.35 L863.50,754.17 L866.50,753.99 L869.50,753.81 L872.50,753.63 L875.50,753.44 L878.50,753.26 L881.50,753.07 L884.50,752.87 L887.50,752.68 L890.50,752.48 L893.50,752.28 L896.50,752.08 L899.50,751.88 L902.50,751.67 L905.50,751.47 L908.50,751.26 L911.50,751.04 L914.50,750.83 L917.50,750.61 L920.50,750.39 L923.50,750.17 L926.50,749.95 L929.50,749.72 L932.50,749.49 L935.50,749.26 L938.50,749.02 L941.50,748.78 L944.50,748.54 L947.50,748.30 L950.50,748.06 L953.50,747.81 L956.50,747.56 L959.50,747.31 L962.50,747.05 L965.50,746.79 L968.50,746.53 L971.50,746.26 L974.50,746.00 L977.50,745.73 L980.50,745.45 L983.50,745.18 L986.50,744.90 L989.50,744.62 L992.50,744.33 L995.50,744.05 L998.50,743.75 L1001.50,743.46 L1004.50,743.16 L1007.50,742.86 L1010.50,742.56 L1013.50,742.25 L1016.50,741.95 L1019.50,741.63 L1022.50,741.32 L1025.50,741.00 L1028.50,740.68 L1031.50,740.35 L1034.50,740.02 L1037.50,739.69 L1040.50,739.35 L1043.50,739.02 L1046.50,738.67 L1049.50,738.33 L1052.50,737.98 L1055.50,737.63 L1058.50,737.27 L1061.50,736.91 L1064.50,736.55 L1067.50,736.18 L1070.50,735.81 L1073.50,735.44 L1076.50,735.07 L1079.50,734.68 L1082.50,734.30 L1085.50,733.91 L1088.50,733.52 L1091.50,733.13 L1094.50,732.73 L1097.50,732.33 L1100.50,731.92 L1103.50,731.51 L1106.50,731.10 L1109.50,730.69 L1112.50,730.27 L1115.50,729.84 L1118.50,729.41 L1121.50,728.98 L1124.50,728.55 L1127.50,728.11 L1130.50,727.67 L1133.50,727.22 L1136.50,726.77 L1139.50,726.32 L1142.50,725.86 L1145.50,725.40 L1148.50,724.93 L1151.50,724.46 L1154.50,723.99 L1157.50,723.51 L1160.50,723.03 L1163.50,722.55 L1166.50,722.06 L1169.50,721.57 L1172.50,721.07 L1175.50,720.57 L1178.50,720.07 L1181.50,719.56 L1184.50,719.05 L1187.50,718.53 L1190.50,718.01 L1193.50,717.49 L1196.50,716.96 L1199.50,716.43 L1202.50,715.89 L1205.50,715.35 L1208.50,714.81 L1211.50,714.26 L1214.50,713.71 L1217.50,713.15 L1220.50,712.59 L1223.50,712.03 L1226.50,711.46 L1229.50,710.89 L1232.50,710.31 L1235.50,709.73 L1238.50,709.15 L1241.50,708.56 L1244.50,707.97 L1247.50,707.38 L1250.50,706.78 L1253.50,706.17 L1256.50,705.56 L1259.50,704.95 L1262.50,704.34 L1265.50,703.72 L1268.50,703.09 L1271.50,702.46 L1274.50,701.83 L1277.50,701.20 L1280.50,700.56 L1283.50,699.91 L1286.50,699.27 L1289.50,698.61 L1292.50,697.96 L1295.50,697.30 L1298.50,696.63 L1301.50,695.97 L1304.50,695.29 L1307.50,694.62 L1310.50,693.94 L1313.50,693.25 L1316.50,692.57 L1319.50,691.88 L1322.50,691.18 L1325.50,690.48 L1328.50,689.78 L1331.50,689.07 L1334.50,688.36 L1337.50,687.64 L1340.50,686.92 L1343.50,686.20 L1346.50,685.47 L1349.50,684.74 L1352.50,684.01 L1355.50,683.27 L1358.50,682.53 L1361.50,681.78 L1364.50,681.03 L1367.50,680.27 L1370.50,679.52 L1373.50,678.76 L1376.50,677.99 L1379.50,677.22 L1382.50,676.45 L1385.50,675.67 L1388.50,674.89 L1391.50,674.10 L1394.50,673.32 L1397.50,672.52 L1400.50,671.73 L1403.50,670.93 L1406.50,670.13 L1409.50,669.32 L1412.50,668.51 L1415.50,667.69 L1418.50,666.87 L1421.50,666.05 L1424.50,665.23 L1427.50,664.40 L1430.50,663.56 L1433.50,662.73 L1436.50,661.89 L1439.50,661.04 L1442.50,660.20 L1445.50,659.34 L1448.50,658.49 L1451.50,657.63 L1454.50,656.77 L1457.50,655.90 L1460.50,655.03 L1463.50,654.16 L1466.50,653.28 L1469.50,652.40 L1472.50,651.52 L1475.50,650.63 L1478.50,649.74 L1481.50,648.85 L1484.50,647.95 L1487.50,647.05 L1490.50,646.14 L1493.50,645.23 L1496.50,644.32 L1499.50,643.40 L1502.50,642.48 L1505.50,641.56 L1508.50,640.63 L1511.50,639.70 L1514.50,638.77 L1517.50,637.83 L1520.50,636.89 L1523.50,635.94 L1526.50,635.00 L1529.50,634.04 L1532.50,633.09 L1535.50,632.13 L1538.50,631.17 L1541.50,630.20 L1544.50,629.24 L1547.50,628.26 L1550.50,627.29 L1553.50,626.31 L1556.50,625.33 L1559.50,624.35 L1562.50,623.36 L1565.50,622.37 L1568.50,621.38 L1571.50,620.39 L1574.50,619.39 L1577.50,618.40 L1580.50,617.40 L1583.50,616.39 L1586.50,615.39 L1589.50,614.38 L1592.50,613.38 L1595.50,612.37 L1598.50,611.36 L1601.50,610.35 L1604.50,609.34 L1607.50,608.32 L1610.50,607.31 L1613.50,606.29 L1616.50,605.28 L1619.50,604.26 L1622.50,603.24 L1625.50,602.22 L1628.50,601.20 L1631.50,600.19 L1634.50,599.17 L1637.50,598.15 L1640.50,597.13 L1643.50,596.10 L1646.50,595.08 L1649.50,594.06 L1652.50,593.04 L1655.50,592.02 L1658.50,591.00 L1661.50,589.97 L1664.50,588.95 L1667.50,587.93 L1670.50,586.90 L1673.50,585.88 L1676.50,584.85 L1679.50,583.83 L1682.50,582.80 L1685.50,581.78 L1688.50,580.75 L1691.50,579.72 L1694.50,578.69 L1697.50,577.67 L1700.50,576.64 L1703.50,575.61 L1706.50,574.57 L1709.50,573.54 L1712.50,572.51 L1715.50,571.47 L1718.50,570.43 L1721.50,569.40 L1724.50,568.36 L1727.50,567.31 L1730.50,566.27 L1733.50,565.23 L1736.50,564.18 L1739.50,563.13 L1742.50,562.07 L1745.50,561.02 L1748.50,559.96 L1751.50,558.90 L1754.50,557.84 L1757.50,556.77 L1760.50,555.70 L1763.50,554.63 L1766.50,553.56 L1769.50,552.48 L1772.50,551.40 L1775.50,550.31 L1778.50,549.23 L1781.50,548.14 L1784.50,547.04 L1787.50,545.95 L1790.50,544.85 L1793.50,543.74 L1796.50,542.64 L1799.50,541.53 L1802.50,540.41 L1805.50,539.30 L1808.50,538.18 L1811.50,537.06 L1814.50,535.93 L1817.50,534.81 L1820.50,533.67 L1823.50,532.54 L1826.50,531.40 L1829.50,530.26 L1832.50,529.12 L1835.50,527.98 L1838.50,526.83 L1841.50,525.68 L1844.50,524.52 L1847.50,523.37 L1850.50,522.21 L1853.50,521.05 L1856.50,519.88 L1859.50,518.72 L1862.50,517.55 L1865.50,516.38 L1868.50,515.20 L1871.50,514.03 L1874.50,512.85 L1877.50,511.66 L1880.50,510.48 L1883.50,509.29 L1886.50,508.11 L1889.50,506.91 L1892.50,505.72 L1895.50,504.53 L1898.50,503.33 L1901.50,502.13 L1904.50,500.93 L1907.50,499.72 L1910.50,498.52 L1913.50,497.31 L1916.50,496.10 L1919.50,494.89 L1922.50,493.68 L1925.50,492.46 L1928.50,491.24 L1931.50,490.02 L1934.50,488.80 L1937.50,487.58 L1940.50,486.35 L1943.50,485.13 L1946.50,483.90 L1949.50,482.67 L1952.50,481.44 L1955.50,480.21 L1958.50,478.97 L1961.50,477.74 L1964.50,476.50 L1967.50,475.26 L1970.50,474.02 L1973.50,472.78 L1976.50,471.54 L1979.50,470.30 L1982.50,469.05 L1985.50,467.81 L1988.50,466.56 L1991.50,465.31 L1994.50,464.06 L1997.50,462.81 L2000.50,461.56 L2003.50,460.31 L2006.50,459.06 L2009.50,457.80 L2012.50,456.55 L2015.50,455.29 L2018.50,454.04 L2021.50,452.78 L2024.50,451.52 L2027.50,450.26 L2030.50,449.01 L2033.50,447.75 L2036.50,446.49 L2039.50,445.23 L2042.50,443.96 L2045.50,442.70 L2048.50,441.44 L2051.50,440.18 L2054.50,438.92 L2057.50,437.65 L2060.50,436.39 L2063.50,435.13 L2066.50,433.86 L2069.50,432.60 L2072.50,431.34 L2075.50,430.07 L2078.50,428.81 L2081.50,427.55 L2084.50,426.28 L2087.50,425.02 L2090.50,423.76 L2093.50,422.49 L2096.50,421.23 L2099.50,419.97 L2102.50,418.71 L2105.50,417.45 L2108.50,416.19 L2111.50,414.92 L2114.50,413.66 L2117.50,412.41 L2120.50,411.15 L2123.50,409.89 L2126.50,408.63 L2129.50,407.37 L2132.50,406.12" stroke="#008000" stroke-width="11" stroke-dasharray="40 36.735" stroke-dashoffset="0" fill="none" shape-rendering="crispEdges"/>
<path d="M272.50,769.98 L275.50,769.94 L278.50,769.89 L281.50,769.84 L284.50,769.80 L287.50,769.75 L290.50,769.70 L293.50,769.64 L296.50,769.59 L299.50,769.53 L302.50,769.48 L305.50,769.42 L308.50,769.36 L311.50,769.30 L314.50,769.24 L317.50,769.18 L320.50,769.12 L323.50,769.05 L326.50,768.99 L329.50,768.92 L332.50,768.86 L335.50,768.79 L338.50,768.72 L341.50,768.65 L344.50,768.58 L347.50,768.51 L350.50,768.44 L353.50,768.37 L356.50,768.30 L359.50,768.23 L362.50,768.16 L365.50,768.08 L368.50,768.01 L371.50,767.94 L374.50,767.86 L377.50,767.79 L380.50,767.71 L383.50,767.64 L386.50,767.56 L389.50,767.49 L392.50,767.41 L395.50,767.34 L398.50,767.26 L401.50,767.19 L404.50,767.11 L407.50,767.04 L410.50,766.96 L413.50,766.89 L416.50,766.81 L419.50,766.73 L422.50,766.66 L425.50,766.58 L428.50,766.51 L431.50,766.43 L434.50,766.36 L437.50,766.28 L440.50,766.21 L443.50,766.14 L446.50,766.06 L449.50,765.99 L452.50,765.92 L455.50,765.84 L458.50,765.77 L461.50,765.70 L464.50,765.63 L467.50,765.55 L470.50,765.48 L473.50,765.41 L476.50,765.34 L479.50,765.27 L482.50,765.20 L485.50,765.13 L488.50,765.07 L491.50,765.00 L494.50,764.93 L497.50,764.86 L500.50,764.80 L503.50,764.73 L506.50,764.66 L509.50,764.60 L512.50,764.53 L515.50,764.47 L518.50,764.41 L521.50,764.34 L524.50,764.28 L527.50,764.22 L530.50,764.16 L533.50,764.10 L536.50,764.04 L539.50,763.98 L542.50,763.92 L545.50,763.86 L548.50,763.80 L551.50,763.74 L554.50,763.69 L557.50,763.63 L560.50,763.57 L563.50,763.52 L566.50,763.46 L569.50,763.41 L572.50,763.35 L575.50,763.30 L578.50,763.25 L581.50,763.19 L584.50,763.14 L587.50,763.09 L590.50,763.04 L593.50,762.99 L596.50,762.94 L599.50,762.89 L602.50,762.84 L605.50,762.79 L608.50,762.74 L611.50,762.70 L614.50,762.65 L617.50,762.60 L620.50,762.55 L623.50,762.51 L626.50,762.46 L629.50,762.42 L632.50,762.37 L635.50,762.33 L638.50,762.28 L641.50,762.24 L644.50,762.19 L647.50,762.15 L650.50,762.10 L653.50,762.06 L656.50,762.02 L659.50,761.97 L662.50,761.93 L665.50,761.88 L668.50,761.84 L671.50,761.80 L674.50,761.75 L677.50,761.71 L680.50,761.67 L683.50,761.62 L686.50,761.58 L689.50,761.54 L692.50,761.49 L695.50,761.45 L698.50,761.41 L701.50,761.36 L704.50,761.32 L707.50,761.27 L710.50,761.23 L713.50,761.18 L716.50,761.14 L719.50,761.09 L722.50,761.04 L725.50,761.00 L728.50,760.95 L731.50,760.90 L734.50,760.85 L737.50,760.80 L740.50,760.75 L743.50,760.70 L746.50,760.65 L749.50,760.60 L752.50,760.54 L755.50,760.49 L758.50,760.43 L761.50,760.38 L764.50,760.32 L767.50,760.26 L770.50,760.21 L773.50,760.15 L776.50,760.09 L779.50,760.02 L782.50,759.96 L785.50,759.90 L788.50,759.83 L791.50,759.76 L794.50,759.69 L797.50,759.62 L800.50,759.55 L803.50,759.48 L806.50,759.41 L809.50,759.33 L812.50,759.25 L815.50,759.17 L818.50,759.09 L821.50,759.01 L824.50,758.92 L827.50,758.84 L830.50,758.75 L833.50,758.66 L836.50,758.56 L839.50,758.47 L842.50,758.37 L845.50,758.27 L848.50,758.17 L851.50,758.07 L854.50,757.96 L857.50,757.85 L860.50,757.74 L863.50,757.62 L866.50,757.51 L869.50,757.39 L872.50,757.26 L875.50,757.14 L878.50,757.01 L881.50,756.88 L884.50,756.75 L887.50,756.61 L890.50,756.47 L893.50,756.32 L896.50,756.18 L899.50,756.03 L902.50,755.87 L905.50,755.72 L908.50,755.56 L911.50,755.39 L914.50,755.23 L917.50,755.06 L920.50,754.88 L923.50,754.70 L926.50,754.52 L929.50,754.34 L932.50,754.15 L935.50,753.95 L938.50,753.75 L941.50,753.55 L944.50,753.35 L947.50,753.14 L950.50,752.92 L953.50,752.70 L956.50,752.48 L959.50,752.25 L962.50,752.02 L965.50,751.79 L968.50,751.55 L971.50,751.30 L974.50,751.05 L977.50,750.80 L980.50,750.54 L983.50,750.28 L986.50,750.01 L989.50,749.74 L992.50,749.46 L995.50,749.18 L998.50,748.89 L1001.50,748.60 L1004.50,748.30 L1007.50,748.00 L1010.50,747.69 L1013.50,747.38 L1016.50,747.06 L1019.50,746.74 L1022.50,746.41 L1025.50,746.08 L1028.50,745.74 L1031.50,745.40 L1034.50,745.05 L1037.50,744.69 L1040.50,744.33 L1043.50,743.97 L1046.50,743.60 L1049.50,743.22 L1052.50,742.84 L1055.50,742.45 L1058.50,742.06 L1061.50,741.66 L1064.50,741.25 L1067.50,740.84 L1070.50,740.43 L1073.50,740.01 L1076.50,739.58 L1079.50,739.14 L1082.50,738.70 L1085.50,738.26 L1088.50,737.81 L1091.50,737.35 L1094.50,736.89 L1097.50,736.42 L1100.50,735.94 L1103.50,735.46 L1106.50,734.97 L1109.50,734.48 L1112.50,733.98 L1115.50,733.47 L1118.50,732.96 L1121.50,732.44 L1124.50,731.92 L1127.50,731.38 L1130.50,730.85 L1133.50,730.30 L1136.50,729.75 L1139.50,729.20 L1142.50,728.63 L1145.50,728.07 L1148.50,727.49 L1151.50,726.91 L1154.50,726.32 L1157.50,725.72 L1160.50,725.12 L1163.50,724.52 L1166.50,723.90 L1169.50,723.28 L1172.50,722.65 L1175.50,722.02 L1178.50,721.38 L1181.50,720.73 L1184.50,720.08 L1187.50,719.42 L1190.50,718.75 L1193.50,718.08 L1196.50,717.40 L1199.50,716.71 L1202.50,716.02 L1205.50,715.32 L1208.50,714.61 L1211.50,713.90 L1214.50,713.18 L1217.50,712.46 L1220.50,711.72 L1223.50,710.99 L1226.50,710.24 L1229.50,709.49 L1232.50,708.73 L1235.50,707.96 L1238.50,707.19 L1241.50,706.41 L1244.50,705.63 L1247.50,704.84 L1250.50,704.04 L1253.50,703.23 L1256.50,702.42 L1259.50,701.60 L1262.50,700.78 L1265.50,699.95 L1268.50,699.11 L1271.50,698.27 L1274.50,697.42 L1277.50,696.56 L1280.50,695.70 L1283.50,694.83 L1286.50,693.95 L1289.50,693.07 L1292.50,692.18 L1295.50,691.29 L1298.50,690.38 L1301.50,689.48 L1304.50,688.56 L1307.50,687.64 L1310.50,686.71 L1313.50,685.78 L1316.50,684.84 L1319.50,683.90 L1322.50,682.94 L1325.50,681.99 L1328.50,681.02 L1331.50,680.05 L1334.50,679.08 L1337.50,678.09 L1340.50,677.11 L1343.50,676.11 L1346.50,675.11 L1349.50,674.10 L1352.50,673.09 L1355.50,672.07 L1358.50,671.05 L1361.50,670.02 L1364.50,668.98 L1367.50,667.94 L1370.50,666.89 L1373.50,665.84 L1376.50,664.78 L1379.50,663.72 L1382.50,662.65 L1385.50,661.57 L1388.50,660.49 L1391.50,659.41 L1394.50,658.31 L1397.50,657.22 L1400.50,656.11 L1403.50,655.01 L1406.50,653.89 L1409.50,652.77 L1412.50,651.65 L1415.50,650.52 L1418.50,649.39 L1421.50,648.25 L1424.50,647.10 L1427.50,645.95 L1430.50,644.80 L1433.50,643.64 L1436.50,642.48 L1439.50,641.31 L1442.50,640.13 L1445.50,638.96 L1448.50,637.77 L1451.50,636.59 L1454.50,635.39 L1457.50,634.20 L1460.50,633.00 L1463.50,631.79 L1466.50,630.58 L1469.50,629.37 L1472.50,628.15 L1475.50,626.93 L1478.50,625.70 L1481.50,624.47 L1484.50,623.23 L1487.50,622.00 L1490.50,620.75 L1493.50,619.51 L1496.50,618.25 L1499.50,617.00 L1502.50,615.74 L1505.50,614.48 L1508.50,613.21 L1511.50,611.94 L1514.50,610.67 L1517.50,609.39 L1520.50,608.11 L1523.50,606.82 L1526.50,605.53 L1529.50,604.24 L1532.50,602.95 L1535.50,601.65 L1538.50,600.34 L1541.50,599.04 L1544.50,597.73 L1547.50,596.42 L1550.50,595.10 L1553.50,593.78 L1556.50,592.46 L1559.50,591.13 L1562.50,589.81 L1565.50,588.47 L1568.50,587.14 L1571.50,585.80 L1574.50,584.46 L1577.50,583.12 L1580.50,581.77 L1583.50,580.42 L1586.50,579.07 L1589.50,577.72 L1592.50,576.36 L1595.50,575.00 L1598.50,573.63 L1601.50,572.27 L1604.50,570.90 L1607.50,569.53 L1610.50,568.15 L1613.50,566.78 L1616.50,565.40 L1619.50,564.01 L1622.50,562.63 L1625.50,561.24 L1628.50,559.85 L1631.50,558.46 L1634.50,557.07 L1637.50,555.67 L1640.50,554.27 L1643.50,552.87 L1646.50,551.47 L1649.50,550.06 L1652.50,548.66 L1655.50,547.25 L1658.50,545.83 L1661.50,544.42 L1664.50,543.00 L1667.50,541.58 L1670.50,540.16 L1673.50,538.74 L1676.50,537.32 L1679.50,535.89 L1682.50,534.46 L1685.50,533.03 L1688.50,531.60 L1691.50,530.16 L1694.50,528.72 L1697.50,527.29 L1700.50,525.85 L1703.50,524.40 L1706.50,522.96 L1709.50,521.51 L1712.50,520.07 L1715.50,518.62 L1718.50,517.16 L1721.50,515.71 L1724.50,514.26 L1727.50,512.80 L1730.50,511.34 L1733.50,509.88 L1736.50,508.42 L1739.50,506.96 L1742.50,505.49 L1745.50,504.03 L1748.50,502.56 L1751.50,501.09 L1754.50,499.62 L1757.50,498.14 L1760.50,496.67 L1763.50,495.19 L1766.50,493.72 L1769.50,492.24 L1772.50,490.76 L1775.50,489.28 L1778.50,487.79 L1781.50,486.31 L1784.50,484.82 L1787.50,483.34 L1790.50,481.85 L1793.50,480.36 L1796.50,478.86 L1799.50,477.37 L1802.50,475.88 L1805.50,474.38 L1808.50,472.88 L1811.50,471.39 L1814.50,469.89 L1817.50,468.39 L1820.50,466.88 L1823.50,465.38 L1826.50,463.87 L1829.50,462.37 L1832.50,460.86 L1835.50,459.35 L1838.50,457.84 L1841.50,456.33 L1844.50,454.82 L1847.50,453.30 L1850.50,451.79 L1853.50,450.27 L1856.50,448.75 L1859.50,447.24 L1862.50,445.72 L1865.50,444.19 L1868.50,442.67 L1871.50,441.15 L1874.50,439.62 L1877.50,438.10 L1880.50,436.57 L1883.50,435.04 L1886.50,433.51 L1889.50,431.98 L1892.50,430.45 L1895.50,428.91 L1898.50,427.38 L1901.50,425.84 L1904.50,424.31 L1907.50,422.77 L1910.50,421.23 L1913.50,419.69 L1916.50,418.15 L1919.50,416.60 L1922.50,415.06 L1925.50,413.51 L1928.50,411.97 L1931.50,410.42 L1934.50,408.87 L1937.50,407.32 L1940.50,405.77 L1943.50,404.21 L1946.50,402.66 L1949.50,401.11 L1952.50,399.55 L1955.50,397.99 L1958.50,396.43 L1961.50,394.87 L1964.50,393.31 L1967.50,391.75 L1970.50,390.18 L1973.50,388.62 L1976.50,387.05 L1979.50,385.48 L1982.50,383.91 L1985.50,382.34 L1988.50,380.77 L1991.50,379.19 L1994.50,377.62 L1997.50,376.04 L2000.50,374.46 L2003.50,372.89 L2006.50,371.30 L2009.50,369.72 L2012.50,368.14 L2015.50,366.55 L2018.50,364.97 L2021.50,363.38 L2024.50,361.79 L2027.50,360.20 L2030.50,358.61 L2033.50,357.01 L2036.50,355.42 L2039.50,353.82 L2042.50,352.22 L2045.50,350.62 L2048.50,349.02 L2051.50,347.42 L2054.50,345.81 L2057.50,344.21 L2060.50,342.60 L2063.50,340.99 L2066.50,339.38 L2069.50,337.76 L2072.50,336.15 L2075.50,334.53 L2078.50,332.91 L2081.50,331.29 L2084.50,329.67 L2087.50,328.05 L2090.50,326.42 L2093.50,324.80 L2096.50,323.17 L2099.50,321.54 L2102.50,319.90 L2105.50,318.27 L2108.50,316.63 L2111.50,314.99 L2114.50,313.35 L2117.50,311.71 L2120.50,310.06 L2123.50,308.42 L2126.50,306.77 L2129.50,305.11 L2132.50,303.46" stroke="#000000" stroke-width="11" stroke-dasharray="40 8.3 20 8.42" stroke-dashoffset="0" fill="none" shape-rendering="crispEdges"/>
<rect x="305" y="105" width="395" height="372" fill="#fff" stroke="#262626" stroke-width="2"/>
<rect x="312" y="148" width="78" height="12" fill="#0072BD"/>
<rect x="312" y="240" width="40" height="11" fill="#008000"/>
<rect x="312" y="330" width="13.05" height="14" fill="#FF0000"/>
<rect x="334.9" y="330" width="13.10" height="14" fill="#FF0000"/>
<rect x="357.9" y="330" width="13.20" height="14" fill="#FF0000"/>
<rect x="381.0" y="330" width="9.00" height="14" fill="#FF0000"/>
<rect x="312" y="423" width="40" height="11" fill="#000"/>
<rect x="360" y="423" width="20" height="11" fill="#000"/>
<text transform="translate(161.98,89.00) scale(0.9825,1)" font-family="Liberation Serif, serif" font-size="73.00" fill="#262626" font-weight="bold" font-style="normal" stroke="none">2.5</text>
<text transform="translate(214.56,320.90) scale(1.0632,1)" font-family="Liberation Serif, serif" font-size="73.00" fill="#262626" font-weight="bold" font-style="normal" stroke="none">2</text>
<text transform="translate(159.06,552.80) scale(1.0171,1)" font-family="Liberation Serif, serif" font-size="73.00" fill="#262626" font-weight="bold" font-style="normal" stroke="none">1.5</text>
<text transform="translate(210.97,784.70) scale(1.1657,1)" font-family="Liberation Serif, serif" font-size="73.00" fill="#262626" font-weight="bold" font-style="normal" stroke="none">1</text>
<text transform="translate(161.68,1016.60) scale(0.9887,1)" font-family="Liberation Serif, serif" font-size="73.00" fill="#262626" font-weight="bold" font-style="normal" stroke="none">0.5</text>
<text transform="translate(215.68,1248.50) scale(1.0249,1)" font-family="Liberation Serif, serif" font-size="73.00" fill="#262626" font-weight="bold" font-style="normal" stroke="none">0</text>
<text transform="translate(252.98,1318.00) scale(1.0249,1)" font-family="Liberation Serif, serif" font-size="73.00" fill="#262626" font-weight="bold" font-style="normal" stroke="none">0</text>
<text transform="translate(550.62,1318.00) scale(1.0682,1)" font-family="Liberation Serif, serif" font-size="73.00" fill="#262626" font-weight="bold" font-style="normal" stroke="none">2</text>
<text transform="translate(848.80,1318.00) scale(0.9684,1)" font-family="Liberation Serif, serif" font-size="73.00" fill="#262626" font-weight="bold" font-style="normal" stroke="none">4</text>
<text transform="translate(1146.35,1318.00) scale(0.9916,1)" font-family="Liberation Serif, serif" font-size="73.00" fill="#262626" font-weight="bold" font-style="normal" stroke="none">6</text>
<text transform="translate(1444.24,1318.00) scale(1.0010,1)" font-family="Liberation Serif, serif" font-size="73.00" fill="#262626" font-weight="bold" font-style="normal" stroke="none">8</text>
<text transform="translate(1719.50,1318.00) scale(1.0500,1)" font-family="Liberation Serif, serif" font-size="73.00" fill="#262626" font-weight="bold" font-style="normal" stroke="none">10</text>
<text transform="translate(2016.70,1318.00) scale(1.0660,1)" font-family="Liberation Serif, serif" font-size="73.00" fill="#262626" font-weight="bold" font-style="normal" stroke="none">12</text>
<text transform="translate(396.00,168.20) scale(1.0392,1)" font-family="Liberation Serif, serif" font-size="68.00" fill="#000" font-weight="bold" font-style="italic" stroke="#fff" stroke-width="0.7" stroke-linejoin="round">Pani et al.</text>
<text transform="translate(396.66,260.00) scale(0.9256,1)" font-family="Liberation Serif, serif" font-size="69.50" fill="#000" font-weight="bold" font-style="italic" stroke="#fff" stroke-width="0.7" stroke-linejoin="round">Sc 0.55</text>
<text transform="translate(396.66,351.60) scale(0.9256,1)" font-family="Liberation Serif, serif" font-size="69.50" fill="#000" font-weight="bold" font-style="italic" stroke="#fff" stroke-width="0.7" stroke-linejoin="round">Sc 0.65</text>
<text transform="translate(396.66,443.50) scale(0.9256,1)" font-family="Liberation Serif, serif" font-size="69.50" fill="#000" font-weight="bold" font-style="italic" stroke="#fff" stroke-width="0.7" stroke-linejoin="round">Sc 0.75</text>
<text font-family="Liberation Serif, serif"><tspan x="1133.20" y="1423.80" textLength="55.44" lengthAdjust="spacingAndGlyphs" font-size="79.40" fill="#262626" font-weight="bold" font-style="italic" stroke="#fff" stroke-width="0.7" stroke-linejoin="round">Z</tspan><tspan x="1188.64" y="1423.45" textLength="17.06" lengthAdjust="spacingAndGlyphs" font-size="84.51" fill="#262626" font-weight="normal" font-style="italic" stroke="#262626" stroke-width="1.4">/</tspan><tspan x="1213.30" y="1423.80" textLength="57.62" lengthAdjust="spacingAndGlyphs" font-size="79.40" fill="#262626" font-weight="bold" font-style="italic" stroke="#fff" stroke-width="0.7" stroke-linejoin="round">D</tspan></text>
<text transform="translate(89.9,724.4) rotate(-90) skewX(-7)" font-family="Liberation Serif, serif"><tspan x="-3.91" y="0.00" textLength="40.83" lengthAdjust="spacingAndGlyphs" font-size="86.81" fill="#262626" font-weight="bold" font-style="italic" stroke="#fff" stroke-width="0.7" stroke-linejoin="round">u</tspan><tspan x="46.60" y="36.35" textLength="28.63" lengthAdjust="spacingAndGlyphs" font-size="65.33" fill="#262626" font-weight="bold" font-style="italic" stroke="#fff" stroke-width="0.7" stroke-linejoin="round">0</tspan><tspan x="76.99" y="0.00" textLength="11.62" lengthAdjust="spacingAndGlyphs" font-size="89.40" fill="#262626" font-weight="normal" font-style="italic" stroke="#262626" stroke-width="2.6">/</tspan><tspan x="97.39" y="0.00" textLength="40.83" lengthAdjust="spacingAndGlyphs" font-size="86.81" fill="#262626" font-weight="bold" font-style="italic" stroke="#fff" stroke-width="0.7" stroke-linejoin="round">u</tspan></text>
<text font-family="Liberation Serif, serif"><tspan x="845.94" y="1559.50" textLength="23.14" lengthAdjust="spacingAndGlyphs" font-size="76.40" fill="#000" font-weight="normal" font-style="normal" stroke="none">(</tspan><tspan x="870.35" y="1559.50" textLength="45.07" lengthAdjust="spacingAndGlyphs" font-size="76.40" fill="#000" font-weight="bold" font-style="normal" stroke="none">b</tspan><tspan x="916.51" y="1559.50" textLength="23.84" lengthAdjust="spacingAndGlyphs" font-size="76.40" fill="#000" font-weight="normal" font-style="normal" stroke="none">)</tspan> <tspan x="958.61" y="1559.50" textLength="59.94" lengthAdjust="spacingAndGlyphs" font-size="76.40" fill="#000" font-weight="normal" font-style="normal" stroke="none">D</tspan> <tspan x="1033.88" y="1559.50" textLength="43.35" lengthAdjust="spacingAndGlyphs" font-size="76.40" fill="#000" font-weight="normal" font-style="normal" stroke="none">=</tspan> <tspan x="1091.74" y="1559.50" textLength="132.28" lengthAdjust="spacingAndGlyphs" font-size="76.40" fill="#000" font-weight="normal" font-style="normal" stroke="none">0.40</tspan> <tspan x="1241.29" y="1559.50" textLength="87.41" lengthAdjust="spacingAndGlyphs" font-size="76.40" fill="#000" font-weight="normal" font-style="normal" stroke="none">m.</tspan></text>
</svg>
</body></html>
